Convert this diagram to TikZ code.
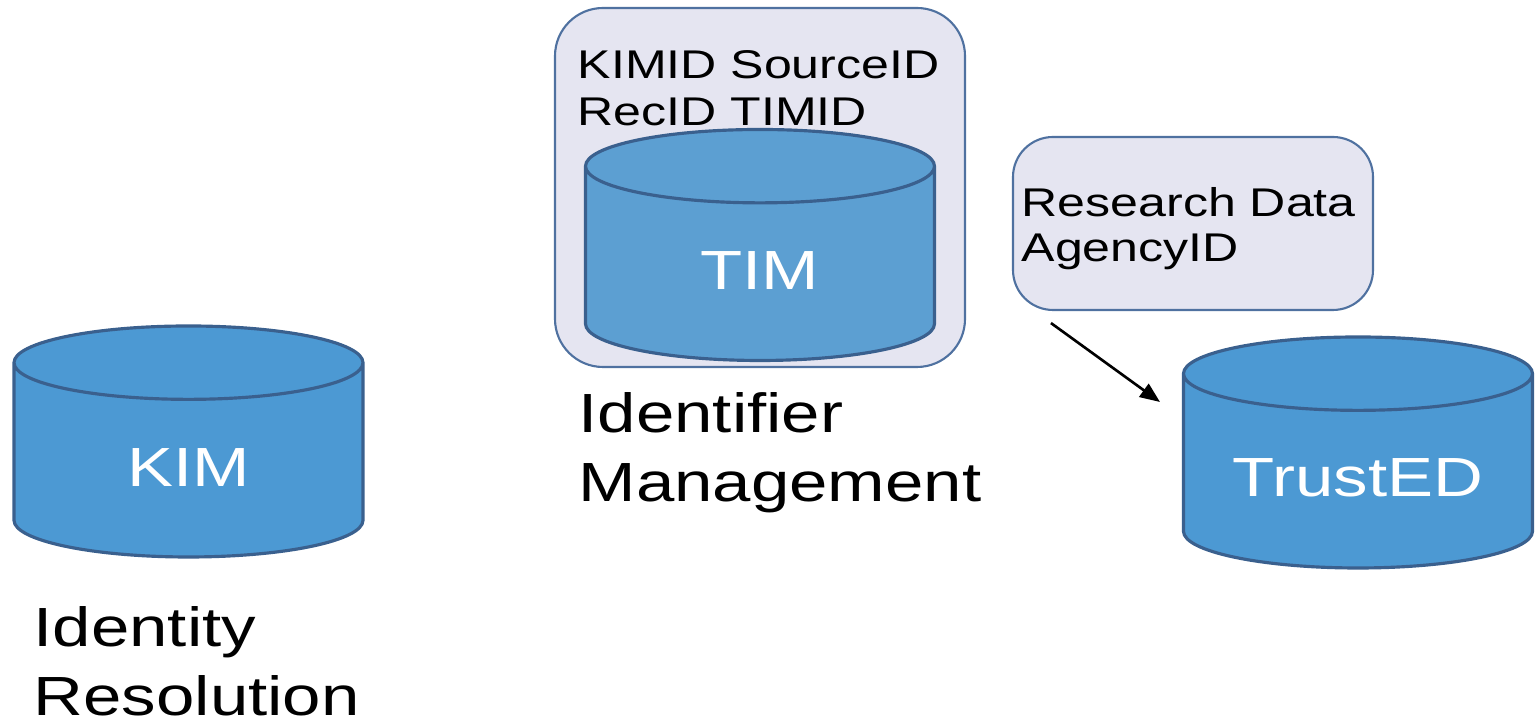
\documentclass[tikz,border=0pt]{standalone}
\usepackage{fontspec}
\setmainfont{Liberation Sans}[FakeStretch=1.25]
\usetikzlibrary{shapes.geometric,arrows.meta}
\definecolor{dbfill}{RGB}{76,153,211}
\definecolor{dbline}{RGB}{58,96,142}
\definecolor{boxfill}{RGB}{229,229,241}
\definecolor{boxline}{RGB}{79,113,160}
\tikzset{
  db/.style={cylinder, shape border rotate=90, aspect=0.53, draw=dbline,
    line width=0.9pt, fill=dbfill, text=white, minimum width=3.49cm,
    minimum height=2.31cm, anchor=shape center, text width=1.15cm,
    align=center, font=\fontsize{15.7}{19.6}\selectfont},
  idbox/.style={draw=boxline, fill=boxfill, line width=0.6pt},
  caption/.style={anchor=north west, inner sep=0pt, align=left,
    font=\fontsize{15.7}{19.6}\selectfont},
  idtext/.style={anchor=north west, inner sep=0pt, align=left,
    font=\fontsize{11.4}{13.4}\selectfont}
}
\begin{document}
\begin{tikzpicture}
  \useasboundingbox (0,0) rectangle (15.38,-7.23);

  % Identity resolution
  \node[db] (kim) at (1.885,-4.415) {\makebox[0pt]{KIM}};
  \node[caption] (kimcap) at (0.33,-6.06) {Identity\\Resolution};

  % Identifier management
  \node[idbox, rounded corners=0.48cm, minimum width=4.10cm,
    minimum height=3.59cm] (timbox) at (7.60,-1.875) {};
  \node[idtext] (timids) at (5.77,-0.50) {KIMID SourceID\\RecID TIMID};
  \node[db, fill=dbfill!92!white!95!gray] (tim) at (7.60,-2.45) {\makebox[0pt]{TIM}};
  \node[caption] (timcap) at (5.78,-3.92) {Identifier\\Management};

  % TrustED
  \node[idbox, rounded corners=0.4cm, minimum width=3.60cm,
    minimum height=1.73cm] (rd) at (11.93,-2.235) {};
  \node[idtext, font=\fontsize{11.4}{12.6}\selectfont] (rdtext) at (10.21,-1.87)
    {Research Data\\AgencyID};
  \node[db] (trust) at (13.58,-4.525) {\makebox[0pt]{TrustED}};

  % Arrow
  \draw[-{Triangle[length=0.2cm,width=0.16cm]}, line width=0.75pt]
    ([shift={(0.39,-0.12)}]rd.south west) -- ([shift={(-1.98,0.505)}]trust.shape center);
\end{tikzpicture}
\end{document}
